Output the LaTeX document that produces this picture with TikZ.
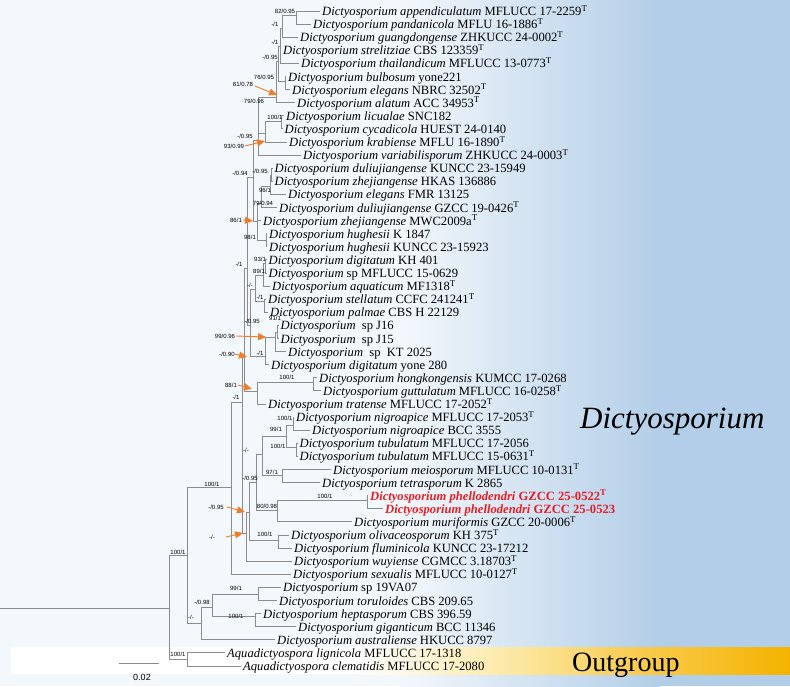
\documentclass[tikz,border=0pt]{standalone}
\usepackage{fontspec}
\setmainfont{Liberation Serif}
\newfontfamily\bsfam{Liberation Sans}
\usetikzlibrary{arrows.meta}
\definecolor{bgl}{HTML}{F3F8FC}
\definecolor{bgb}{HTML}{B3CEE8}
\definecolor{bando}{HTML}{F5B300}
\definecolor{bandm}{HTML}{F9CF5A}
\definecolor{bandy}{HTML}{FCE7A0}
\definecolor{treeg}{HTML}{8C8C8C}
\definecolor{redt}{HTML}{E31E24}
\definecolor{arrc}{HTML}{F07D26}
\newcommand{\Dsp}[1]{\textit{Dictyosporium #1}}
\newcommand{\Ty}{\textsuperscript{T}}
\tikzset{
  br/.style={draw=treeg, line width=0.9pt},
  tiplab/.style={anchor=base west, inner sep=0pt, xshift=2pt, yshift=-4.5pt, font=\fontsize{12.6}{14}\selectfont},
  redlab/.style={tiplab, text=redt, font=\fontsize{12.6}{14}\selectfont\bfseries},
  bs/.style={inner sep=0pt, font=\bsfam\fontsize{6}{7}\selectfont},
  arr/.style={draw=arrc, line width=0.9pt, -{Triangle[length=8pt,width=7pt]}, arrc}
}
\begin{document}
\begin{tikzpicture}[x=1pt,y=-1pt]
\useasboundingbox (0,0) rectangle (790,686);
% background
\fill[bgl] (0,0) rectangle (400,686);
\shade[left color=bgl, right color=bgb] (399.5,0) rectangle (660,686);
\fill[bgb] (659.5,0) rectangle (790,686);
% outgroup band
\fill[white] (11,647) rectangle (360,674);
\shade[left color=white, right color=bandy] (359.5,647) rectangle (520,674);
\shade[left color=bandy, right color=bandm] (519.5,647) rectangle (620,674);
\shade[left color=bandm, right color=bando] (619.5,647) rectangle (790,674);

% ---------- tips ----------
\coordinate (t1) at (320,11.0);
\coordinate (t2) at (311,24.1);
\coordinate (t3) at (298,37.2);
\coordinate (t4) at (281,50.3);
\coordinate (t5) at (299,63.4);
\coordinate (t6) at (286,76.5);
\coordinate (t7) at (290,89.6);
\coordinate (t8) at (295,102.7);
\coordinate (t9) at (284,115.8);
\coordinate (t10) at (282.5,128.9);
\coordinate (t11) at (287,142.0);
\coordinate (t12) at (301,155.1);
\coordinate (t13) at (272.5,168.2);
\coordinate (t14) at (272.5,181.3);
\coordinate (t15) at (286,194.4);
\coordinate (t16) at (277,207.5);
\coordinate (t17) at (261,220.6);
\coordinate (t18) at (267,233.7);
\coordinate (t19) at (267,246.8);
\coordinate (t20) at (266.5,259.9);
\coordinate (t21) at (266.5,273.0);
\coordinate (t22) at (270,286.1);
\coordinate (t23) at (266,299.2);
\coordinate (t24) at (268,312.3);
\coordinate (t25) at (278.5,325.4);
\coordinate (t26) at (278.5,338.5);
\coordinate (t27) at (286,351.6);
\coordinate (t28) at (269,364.7);
\coordinate (t29) at (317,377.8);
\coordinate (t30) at (321,390.9);
\coordinate (t31) at (266,404.0);
\coordinate (t32) at (294,417.1);
\coordinate (t33) at (310,430.2);
\coordinate (t34) at (297.5,443.3);
\coordinate (t35) at (297.5,456.4);
\coordinate (t36) at (331,469.5);
\coordinate (t37) at (320,482.6);
\coordinate (t38) at (368,495.7);
\coordinate (t39) at (383,508.8);
\coordinate (t40) at (352,521.9);
\coordinate (t41) at (289,535.0);
\coordinate (t42) at (292,548.1);
\coordinate (t43) at (292,561.2);
\coordinate (t44) at (291,574.3);
\coordinate (t45) at (281,587.4);
\coordinate (t46) at (277,600.5);
\coordinate (t47) at (261,613.6);
\coordinate (t48) at (296,626.7);
\coordinate (t49) at (275,639.8);
\coordinate (t50) at (225,652.9);
\coordinate (t51) at (241,666.0);

% ---------- internal nodes ----------
\coordinate (R0) at (0,608);
\coordinate (R) at (169,608);
\coordinate (OUT) at (187,659);
\coordinate (ING) at (187,555);
\coordinate (N201) at (201,623);
\coordinate (N212) at (212,607);
\coordinate (N99b) at (258,594);
\coordinate (N100h) at (255,616);
\coordinate (CORE) at (231,487);
\coordinate (NBIG) at (242,402);
\coordinate (N246) at (246,533);
\coordinate (N249) at (249,512);
\coordinate (NOLF) at (278,540);
\coordinate (N256) at (256,482);
\coordinate (N262) at (262,454);
\coordinate (N99) at (286,436);
\coordinate (NNIG) at (293,425);
\coordinate (NTUB) at (296,447);
\coordinate (N97) at (282,475);
\coordinate (N80) at (277,510);
\coordinate (NPHE) at (367,500);
\coordinate (NU) at (244,357);
\coordinate (N88) at (257,391);
\coordinate (NHK) at (313,382);
\coordinate (N244) at (247,268);
\coordinate (NC) at (250,325);
\coordinate (NDASH) at (255,289);
\coordinate (N89) at (263.5,275);
\coordinate (N93B) at (265.5,263);
\coordinate (NM1) at (264,301);
\coordinate (NM1B) at (265,356);
\coordinate (N91) at (275.5,337);
\coordinate (NJ) at (277.5,332);
\coordinate (N094) at (253,177);
\coordinate (N79) at (258,140);
\coordinate (N81) at (276,97);
\coordinate (N4) at (278,61);
\coordinate (N3) at (280,46);
\coordinate (N2) at (282,28);
\coordinate (N1) at (296,15);
\coordinate (N76) at (285,81);
\coordinate (N93) at (265,133);
\coordinate (N100) at (281.5,121);
\coordinate (N86) at (257,221);
\coordinate (N79B) at (261,203);
\coordinate (N96) at (270,186);
\coordinate (NA) at (271.5,175);
\coordinate (N98) at (266,240);

% ---------- branches ----------
\draw[br] (R0) -- (R);
\draw[br] (R) |- (ING) (R) |- (OUT);
\draw[br] (OUT) |- (t50) (OUT) |- (t51);
\draw[br] (ING) |- (CORE) (ING) |- (N201);
\draw[br] (N201) |- (N212) (N201) |- (t49);
\draw[br] (N212) |- (N99b) (N212) |- (N100h);
\draw[br] (N99b) |- (t45) (N99b) |- (t46);
\draw[br] (N100h) |- (t47) (N100h) |- (t48);
\draw[br] (CORE) |- (NBIG) (CORE) |- (t44);
\draw[br] (NBIG) |- (NU) (NBIG) |- (N246);
\draw[br] (N246) |- (N249) (N246) |- (t43);
\draw[br] (N249) |- (N256) (N249) |- (NOLF);
\draw[br] (NOLF) |- (t41) (NOLF) |- (t42);
\draw[br] (N256) |- (N262) (N256) |- (N80);
\draw[br] (N262) |- (N99) (N262) |- (N97);
\draw[br] (N99) |- (NNIG) (N99) |- (NTUB);
\draw[br] (NNIG) |- (t32) (NNIG) |- (t33);
\draw[br] (NTUB) |- (t34) (NTUB) |- (t35);
\draw[br] (N97) |- (t36) (N97) |- (t37);
\draw[br] (N80) |- (NPHE) (N80) |- (t40);
\draw[br] (NPHE) |- (t38) (NPHE) |- (t39);
\draw[br] (NU) |- (N244) (NU) |- (N88);
\draw[br] (N88) |- (NHK) (N88) |- (t31);
\draw[br] (NHK) |- (t29) (NHK) |- (t30);
\draw[br] (N244) |- (N094) (N244) |- (NC);
\draw[br] (NC) |- (NDASH) (NC) |- (NM1B);
\draw[br] (NDASH) |- (N89) (NDASH) |- (NM1);
\draw[br] (N89) |- (N93B) (N89) |- (t22);
\draw[br] (N93B) |- (t20) (N93B) |- (t21);
\draw[br] (NM1) |- (t23) (NM1) |- (t24);
\draw[br] (NM1B) |- (N91) (NM1B) |- (t28);
\draw[br] (N91) |- (NJ) (N91) |- (t27);
\draw[br] (NJ) |- (t25) (NJ) |- (t26);
\draw[br] (N094) |- (N79) (N094) |- (N86);
\draw[br] (N79) |- (N81) (N79) |- (N93) (N79) |- (t12);
\draw[br] (N81) |- (N4) (N81) |- (t8);
\draw[br] (N4) |- (N3) (N4) |- (N76);
\draw[br] (N3) |- (N2) (N3) |- (t4) (N3) |- (t5);
\draw[br] (N2) |- (N1) (N2) |- (t3);
\draw[br] (N1) |- (t1) (N1) |- (t2);
\draw[br] (N76) |- (t6) (N76) |- (t7);
\draw[br] (N93) |- (N100) (N93) |- (t11);
\draw[br] (N100) |- (t9) (N100) |- (t10);
\draw[br] (N86) |- (N79B) (N86) |- (t17) (N86) |- (N98);
\draw[br] (N79B) |- (N96) (N79B) |- (t16);
\draw[br] (N96) |- (NA) (N96) |- (t15);
\draw[br] (NA) |- (t13) (NA) |- (t14);
\draw[br] (N98) |- (t18) (N98) |- (t19);

% ---------- tip labels ----------
\node[tiplab] (l1) at (t1) {\Dsp{appendiculatum} MFLUCC 17-2259\Ty};
\node[tiplab] (l2) at (t2) {\Dsp{pandanicola} MFLU 16-1886\Ty};
\node[tiplab] (l3) at (t3) {\Dsp{guangdongense} ZHKUCC 24-0002\Ty};
\node[tiplab] (l4) at (t4) {\Dsp{strelitziae} CBS 123359\Ty};
\node[tiplab] (l5) at (t5) {\Dsp{thailandicum} MFLUCC 13-0773\Ty};
\node[tiplab] (l6) at (t6) {\Dsp{bulbosum} yone221};
\node[tiplab] (l7) at (t7) {\Dsp{elegans} NBRC 32502\Ty};
\node[tiplab] (l8) at (t8) {\Dsp{alatum} ACC 34953\Ty};
\node[tiplab] (l9) at (t9) {\Dsp{licualae} SNC182};
\node[tiplab] (l10) at (t10) {\Dsp{cycadicola} HUEST 24-0140};
\node[tiplab] (l11) at (t11) {\Dsp{krabiense} MFLU 16-1890\Ty};
\node[tiplab] (l12) at (t12) {\Dsp{variabilisporum} ZHKUCC 24-0003\Ty};
\node[tiplab] (l13) at (t13) {\Dsp{duliujiangense} KUNCC 23-15949};
\node[tiplab] (l14) at (t14) {\Dsp{zhejiangense} HKAS 136886};
\node[tiplab] (l15) at (t15) {\Dsp{elegans} FMR 13125};
\node[tiplab] (l16) at (t16) {\Dsp{duliujiangense} GZCC 19-0426\Ty};
\node[tiplab] (l17) at (t17) {\Dsp{zhejiangense} MWC2009a\Ty};
\node[tiplab] (l18) at (t18) {\Dsp{hughesii} K 1847};
\node[tiplab] (l19) at (t19) {\Dsp{hughesii} KUNCC 23-15923};
\node[tiplab] (l20) at (t20) {\Dsp{digitatum} KH 401};
\node[tiplab] (l21) at (t21) {\textit{Dictyosporium} sp MFLUCC 15-0629};
\node[tiplab] (l22) at (t22) {\Dsp{aquaticum} MF1318\Ty};
\node[tiplab] (l23) at (t23) {\Dsp{stellatum} CCFC 241241\Ty};
\node[tiplab] (l24) at (t24) {\Dsp{palmae} CBS H 22129};
\node[tiplab] (l25) at (t25) {\textit{Dictyosporium}\ \ sp J16};
\node[tiplab] (l26) at (t26) {\textit{Dictyosporium}\ \ sp J15};
\node[tiplab] (l27) at (t27) {\textit{Dictyosporium}\ \ sp\ \ KT 2025};
\node[tiplab] (l28) at (t28) {\Dsp{digitatum} yone 280};
\node[tiplab] (l29) at (t29) {\Dsp{hongkongensis} KUMCC 17-0268};
\node[tiplab] (l30) at (t30) {\Dsp{guttulatum} MFLUCC 16-0258\Ty};
\node[tiplab] (l31) at (t31) {\Dsp{tratense} MFLUCC 17-2052\Ty};
\node[tiplab] (l32) at (t32) {\Dsp{nigroapice} MFLUCC 17-2053\Ty};
\node[tiplab] (l33) at (t33) {\Dsp{nigroapice} BCC 3555};
\node[tiplab] (l34) at (t34) {\Dsp{tubulatum} MFLUCC 17-2056};
\node[tiplab] (l35) at (t35) {\Dsp{tubulatum} MFLUCC 15-0631\Ty};
\node[tiplab] (l36) at (t36) {\Dsp{meiosporum} MFLUCC 10-0131\Ty};
\node[tiplab] (l37) at (t37) {\Dsp{tetrasporum} K 2865};
\node[redlab] (l38) at (t38) {\Dsp{phellodendri} GZCC 25-0522\Ty};
\node[redlab] (l39) at (t39) {\Dsp{phellodendri} GZCC 25-0523};
\node[tiplab] (l40) at (t40) {\Dsp{muriformis} GZCC 20-0006\Ty};
\node[tiplab] (l41) at (t41) {\Dsp{olivaceosporum} KH 375\Ty};
\node[tiplab] (l42) at (t42) {\Dsp{fluminicola} KUNCC 23-17212};
\node[tiplab] (l43) at (t43) {\Dsp{wuyiense} CGMCC 3.18703\Ty};
\node[tiplab] (l44) at (t44) {\Dsp{sexualis} MFLUCC 10-0127\Ty};
\node[tiplab] (l45) at (t45) {\textit{Dictyosporium} sp 19VA07};
\node[tiplab] (l46) at (t46) {\Dsp{toruloides} CBS 209.65};
\node[tiplab] (l47) at (t47) {\Dsp{heptasporum} CBS 396.59};
\node[tiplab] (l48) at (t48) {\Dsp{giganticum} BCC 11346};
\node[tiplab] (l49) at (t49) {\Dsp{australiense} HKUCC 8797};
\node[tiplab] (l50) at (t50) {\textit{Aquadictyospora lignicola} MFLUCC 17-1318};
\node[tiplab] (l51) at (t51) {\textit{Aquadictyospora clematidis} MFLUCC 17-2080};

% ---------- support values ----------
\node[bs] (s1) at (285,11) {82/0.95};
\node[bs] (s2) at (275,24) {-/1};
\node[bs] (s3) at (275,42) {-/1};
\node[bs] (s4) at (270,57) {-/0.95};
\node[bs] (s5) at (264,77) {76/0.95};
\node[bs] (s6) at (243,84) {81/0.78};
\node[bs] (s7) at (254,101) {79/0.96};
\node[bs] (s8) at (275,117) {100/1};
\node[bs] (s9) at (245,136) {-/0.95};
\node[bs] (s10) at (234,146) {93/0.99};
\node[bs] (s11) at (240,173) {-/0.94};
\node[bs] (s12) at (260,171) {-/0.95};
\node[bs] (s13) at (265,190) {96/1};
\node[bs] (s14) at (263,203) {79/0.94};
\node[bs] (s15) at (236,220) {86/1};
\node[bs] (s16) at (250,237) {98/1};
\node[bs] (s17) at (260,259) {93/1};
\node[bs] (s18) at (239,264) {-/1};
\node[bs] (s19) at (259,271) {89/1};
\node[bs] (s20) at (250,285) {-/-};
\node[bs] (s21) at (260,297) {-/1};
\node[bs] (s22) at (252,321) {-/0.95};
\node[bs] (s23) at (275,318.5) {91/1};
\node[bs] (s24) at (225,336) {99/0.96};
\node[bs] (s25) at (227,354) {-/0.90};
\node[bs] (s26) at (260,353) {-/1};
\node[bs] (s27) at (287,377) {100/1};
\node[bs] (s28) at (231,385) {88/1};
\node[bs] (s29) at (236,397) {-/1};
\node[bs] (s30) at (285,418) {100/1};
\node[bs] (s31) at (276,429) {99/1};
\node[bs] (s32) at (278,446) {100/1};
\node[bs] (s33) at (246,450) {-/-};
\node[bs] (s34) at (272,472) {97/1};
\node[bs] (s35) at (250,478) {-/0.95};
\node[bs] (s36) at (212,484) {100/1};
\node[bs] (s37) at (325,496) {100/1};
\node[bs] (s38) at (267,506) {80/0.98};
\node[bs] (s39) at (216,507) {-/0.95};
\node[bs] (s40) at (265,534) {100/1};
\node[bs] (s41) at (212,537) {-/-};
\node[bs] (s42) at (178,552) {100/1};
\node[bs] (s43) at (236,588) {99/1};
\node[bs] (s44) at (202,602) {-/0.98};
\node[bs] (s45) at (236,616) {100/1};
\node[bs] (s46) at (191,617) {-/-};
\node[bs] (s47) at (178,654) {100/1};

% ---------- orange arrows ----------
\coordinate (a1s) at (255,86);  \coordinate (a1e) at (277,95);
\coordinate (a2s) at (245,146); \coordinate (a2e) at (265,141);
\coordinate (a3s) at (243,220); \coordinate (a3e) at (253,221);
\coordinate (a4s) at (236,336); \coordinate (a4e) at (266,337);
\coordinate (a5s) at (235,354); \coordinate (a5e) at (247,357);
\coordinate (a6s) at (238,385); \coordinate (a6e) at (252,389);
\coordinate (a7s) at (227,507); \coordinate (a7e) at (245,512);
\coordinate (a8s) at (226,537); \coordinate (a8e) at (243,533);
\draw[arr] (a1s) -- (a1e);
\draw[arr] (a2s) -- (a2e);
\draw[arr] (a3s) -- (a3e);
\draw[arr] (a4s) -- (a4e);
\draw[arr] (a5s) -- (a5e);
\draw[arr] (a6s) -- (a6e);
\draw[arr] (a7s) -- (a7e);
\draw[arr] (a8s) -- (a8e);

% ---------- clade names ----------
\node[anchor=base west, inner sep=0pt, font=\itshape\fontsize{31}{31}\selectfont] (clade) at (580,428) {Dictyosporium};
\node[anchor=base west, inner sep=0pt, font=\fontsize{28}{28}\selectfont] (outg) at (572,671) {Outgroup};

% ---------- scale bar ----------
\coordinate (sb1) at (119,663);
\coordinate (sb2) at (159,663);
\draw[draw=treeg, line width=0.9pt] (sb1) -- (sb2);
\node[inner sep=0pt, font=\bsfam\fontsize{9}{10}\selectfont] (sbl) at (142,677) {0.02};
\end{tikzpicture}
\end{document}
